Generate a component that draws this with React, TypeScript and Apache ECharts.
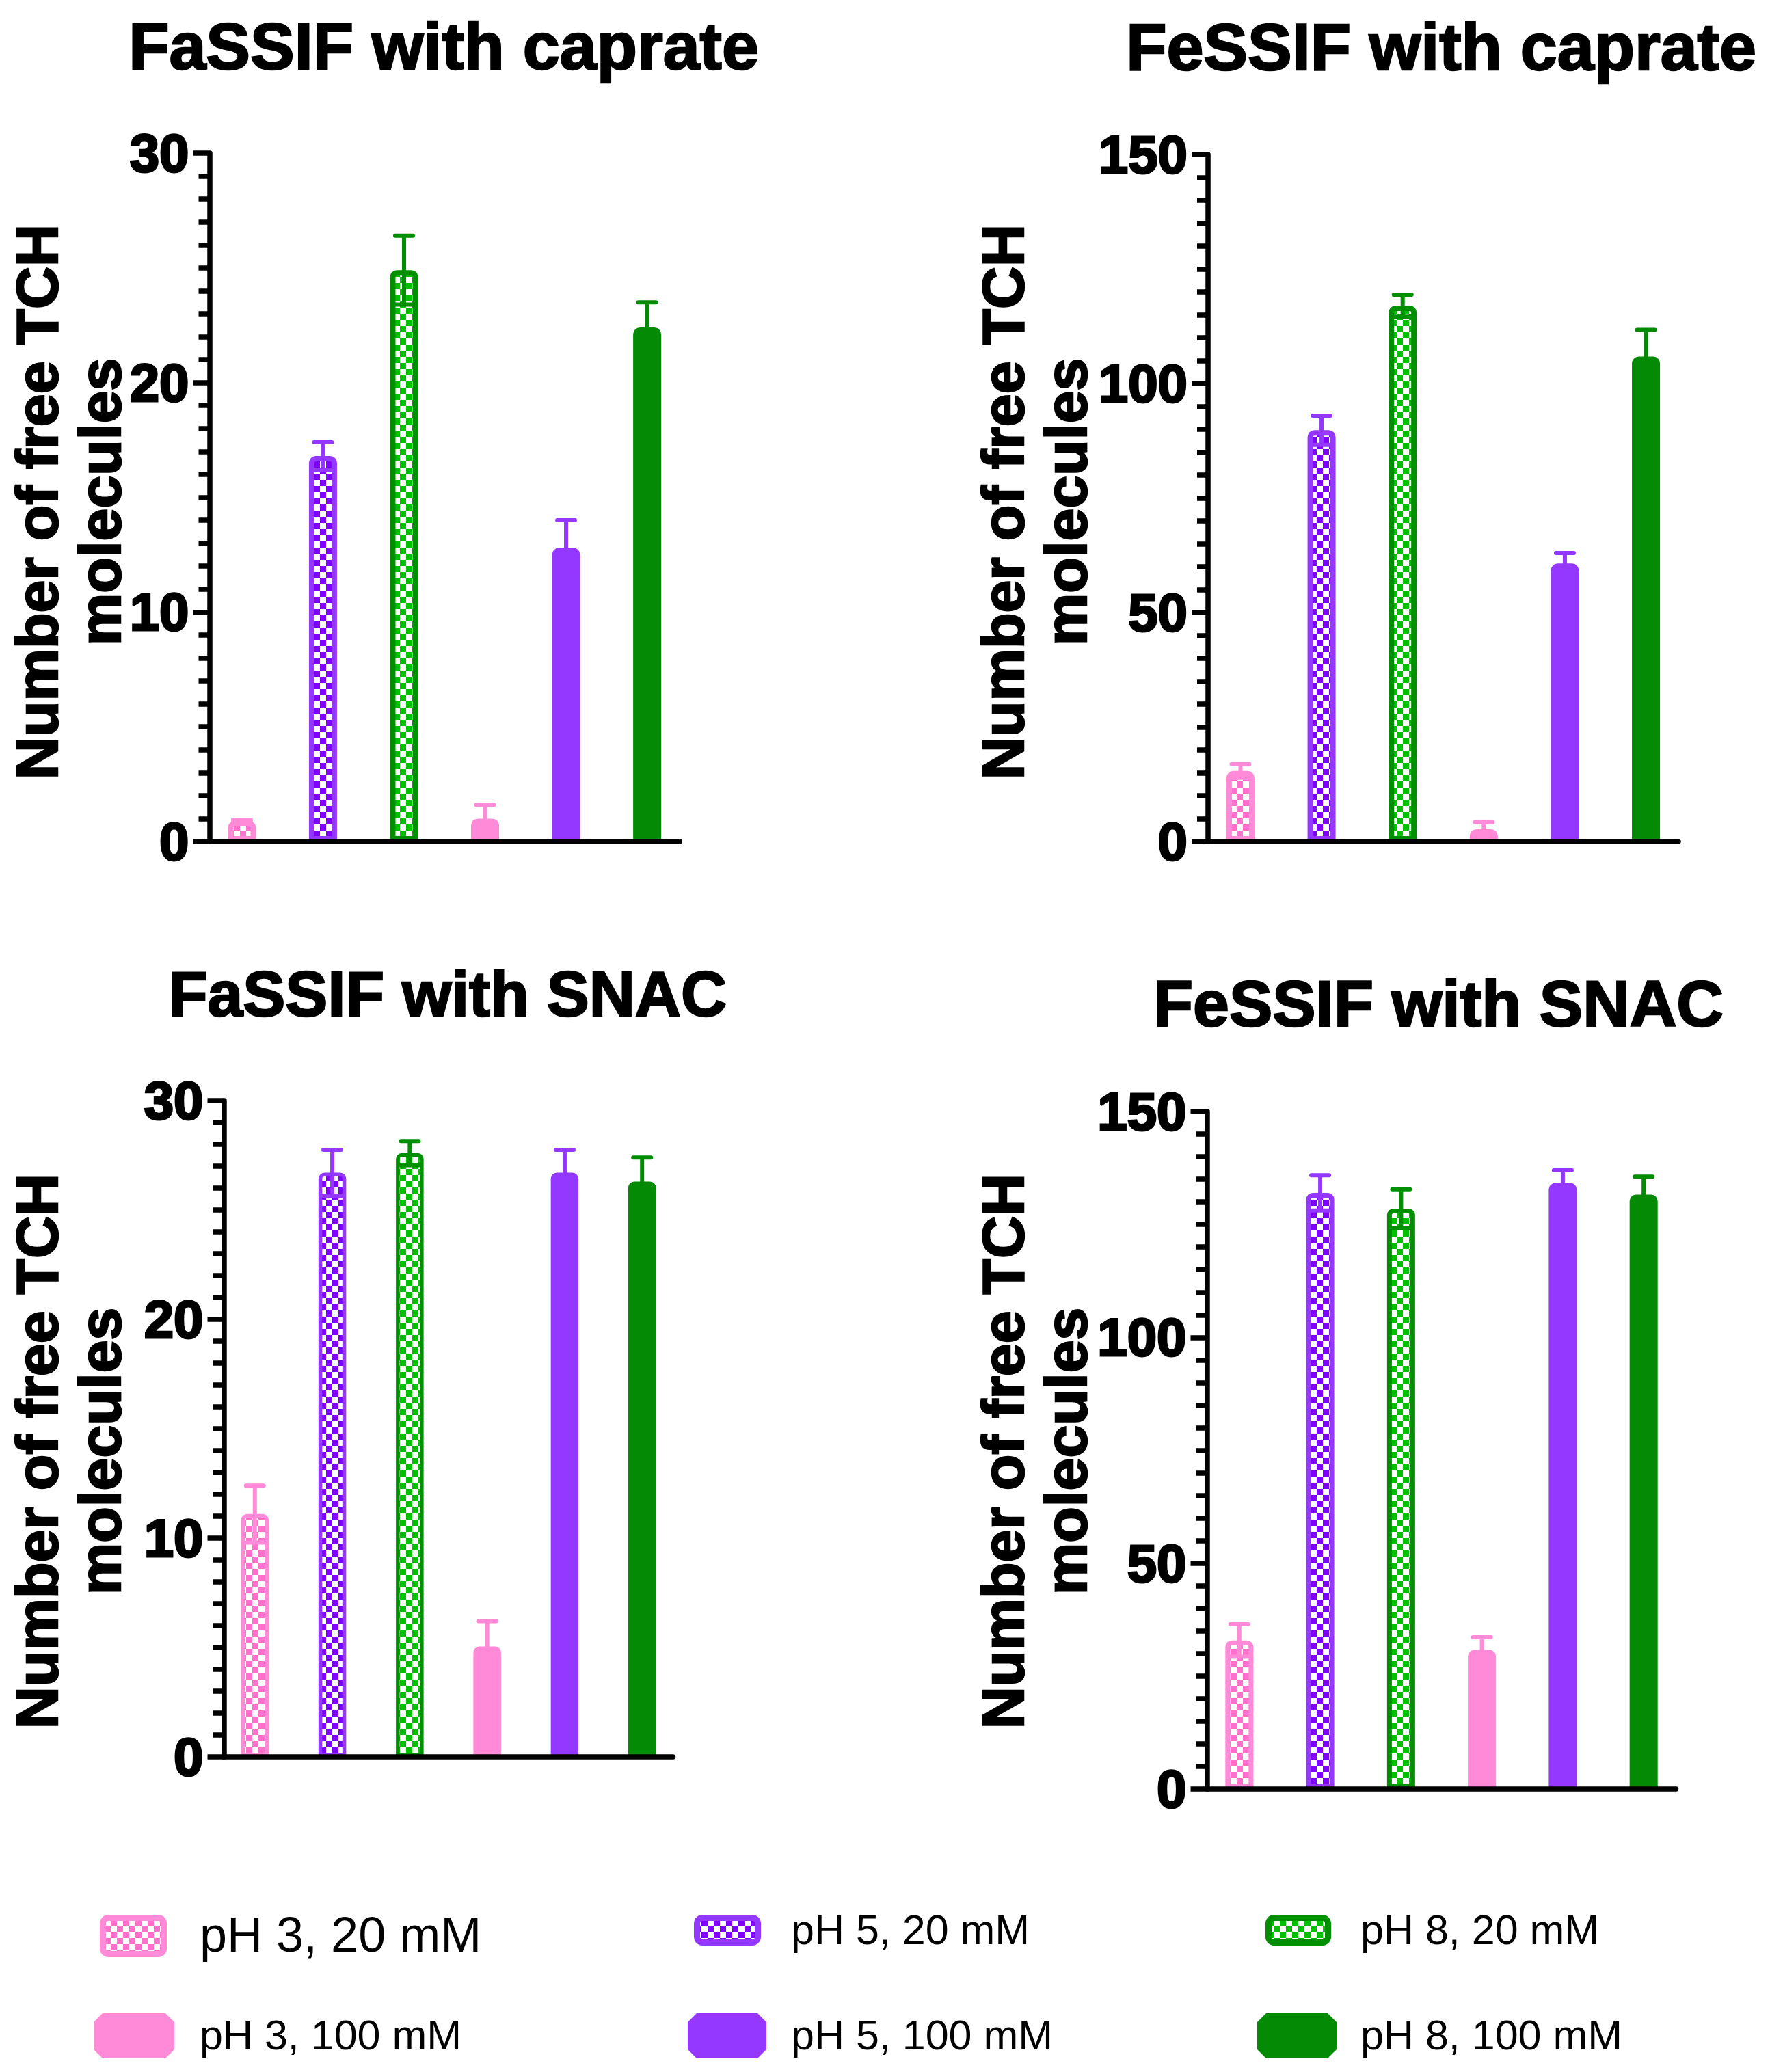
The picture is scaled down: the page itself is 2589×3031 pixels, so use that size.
import React, { useEffect, useRef } from "react";
import * as echarts from "echarts";

// ---------- data ----------
const CATEGORIES = ["pH 3, 20 mM", "pH 5, 20 mM", "pH 8, 20 mM", "pH 3, 100 mM", "pH 5, 100 mM", "pH 8, 100 mM"];
const TITLES = ["FaSSIF with caprate", "FeSSIF with caprate", "FaSSIF with SNAC", "FeSSIF with SNAC"];
const Y_NAME = "Number of free TCH\nmolecules";

const FASSIF_CAPRATE = [0.9, 16.8, 24.9, 1.0, 12.8, 22.4];
const FASSIF_CAPRATE_ERR = [0.05, 0.6, 1.5, 0.6, 1.2, 1.1];
const FESSIF_CAPRATE = [15.4, 89.8, 117.0, 2.7, 60.7, 105.9];
const FESSIF_CAPRATE_ERR = [1.5, 3.2, 2.4, 1.5, 2.3, 5.8];
const FASSIF_SNAC = [11.1, 26.7, 27.6, 5.05, 26.7, 26.3];
const FASSIF_SNAC_ERR = [1.3, 1.05, 0.55, 1.15, 1.05, 1.1];
const FESSIF_SNAC = [32.9, 132.0, 128.5, 30.8, 134.2, 131.6];
const FESSIF_SNAC_ERR = [3.6, 3.9, 4.3, 2.8, 2.8, 4.0];

const Y_MAX = [30, 150, 30, 150];
const Y_INTERVAL = [10, 50, 10, 50];
const Y_MINOR_SPLIT = [10, 10, 10, 10];

// ---------- styles ----------
const FONT = "'Liberation Sans', Arial, sans-serif";
const BORDER_COLORS = ["#FF8AD8", "#9437FF", "#008F00"];
const CELL_COLORS = ["#FF70CC", "#8000FF", "#00C000"];
const SOLID_COLORS = ["#FF8AD8", "#9437FF", "#058A05"];

const PANELS = [
  { left: 306.5, top: 224, width: 687.5, height: 1007, outer: 49, border: 8, titleX: 649, titleY: 67, titleSize: 97, nameX: 99.5, nameY: 734 },
  { left: 1767, top: 226, width: 688, height: 1005, outer: 49, border: 8, titleX: 2108, titleY: 68, titleSize: 97, nameX: 1512.5, nameY: 734 },
  { left: 327.5, top: 1610, width: 657, height: 960, outer: 46, border: 5.5, titleX: 655, titleY: 1454, titleSize: 93, nameX: 99.5, nameY: 2123 },
  { left: 1765.5, top: 1626, width: 686, height: 991, outer: 48, border: 7, titleX: 2104, titleY: 1468, titleSize: 95, nameX: 1512.5, nameY: 2123 },
];

function checker(cell: number, fg: string) {
  const c = document.createElement("canvas");
  c.width = cell * 2;
  c.height = cell * 2;
  const g = c.getContext("2d")!;
  g.fillStyle = "#ffffff";
  g.fillRect(0, 0, cell * 2, cell * 2);
  g.fillStyle = fg;
  g.fillRect(0, 0, cell, cell);
  g.fillRect(cell, cell, cell, cell);
  return c;
}

export default function App() {
  const ref = useRef<HTMLDivElement>(null);
  useEffect(() => {
    document.body.style.margin = "0";
    if (!ref.current) return;
    const chart = echarts.init(ref.current, undefined, { renderer: "svg" });

    const patterns = CELL_COLORS.map((c) => ({ image: checker(9, c), repeat: "repeat" }));
    const values = [FASSIF_CAPRATE, FESSIF_CAPRATE, FASSIF_SNAC, FESSIF_SNAC];
    const errors = [FASSIF_CAPRATE_ERR, FESSIF_CAPRATE_ERR, FASSIF_SNAC_ERR, FESSIF_SNAC_ERR];

    const lineStyle = { color: "#000", width: 7.5 };
    const grids: any[] = [];
    const xAxes: any[] = [];
    const yAxes: any[] = [];
    const series: any[] = [];
    const graphics: any[] = [];

    PANELS.forEach((p, i) => {
      grids.push({ left: p.left, top: p.top, width: p.width, height: p.height, containLabel: false, outerBoundsMode: "none" });
      xAxes.push({
        gridIndex: i, type: "value", min: -0.4, max: 5.4, z: 10,
        axisLine: { show: true, onZero: false, lineStyle },
        axisTick: { show: false }, axisLabel: { show: false }, splitLine: { show: false },
      });
      yAxes.push({
        gridIndex: i, type: "value", min: 0, max: Y_MAX[i], interval: Y_INTERVAL[i], z: 10,
        axisLine: { show: true, onZero: false, lineStyle },
        axisTick: { show: true, length: 24, lineStyle },
        minorTick: { show: true, splitNumber: Y_MINOR_SPLIT[i], length: 16, lineStyle },
        splitLine: { show: false }, minorSplitLine: { show: false },
        axisLabel: {
          margin: 30, fontSize: 78, fontWeight: "bold", fontFamily: FONT, color: "#000",
          textBorderColor: "#000", textBorderWidth: 3,
        },
      });
      const vals = values[i];
      const errs = errors[i];
      series.push({
        type: "bar", name: TITLES[i], xAxisIndex: i, yAxisIndex: i, silent: true, z: 2,
        barWidth: p.outer - p.border,
        data: vals.map((v, k) => {
          const c = k % 3;
          const patterned = k < 3;
          return {
            value: [k, v],
            name: CATEGORIES[k],
            itemStyle: {
              color: patterned ? patterns[c] : SOLID_COLORS[c],
              borderColor: patterned ? BORDER_COLORS[c] : SOLID_COLORS[c],
              borderWidth: p.border,
              borderRadius: [6, 6, 0, 0],
            },
          };
        }),
      });
      series.push({
        type: "custom", xAxisIndex: i, yAxisIndex: i, silent: true, z: 5,
        encode: { x: 0, y: 1 },
        data: vals.map((v, k) => [k, v, errs[k]]),
        renderItem: (params: any, api: any) => {
          const x = api.value(0);
          const y = api.value(1);
          const e = api.value(2);
          const k = params.dataIndex;
          const col = k < 3 ? BORDER_COLORS[k % 3] : SOLID_COLORS[k % 3];
          const t = api.coord([x, y + e]);
          const b = api.coord([x, y - e]);
          const st = { stroke: col, lineWidth: 6, lineCap: "round" };
          return {
            type: "group",
            children: [
              { type: "line", shape: { x1: t[0], y1: t[1], x2: b[0], y2: b[1] }, style: { stroke: col, lineWidth: 6 } },
              { type: "line", shape: { x1: t[0] - 13, y1: t[1], x2: t[0] + 13, y2: t[1] }, style: st },
              { type: "line", shape: { x1: b[0] - 13, y1: b[1], x2: b[0] + 13, y2: b[1] }, style: st },
            ],
          };
        },
      });
      graphics.push({
        type: "text", x: p.titleX, y: p.titleY, silent: true,
        style: {
          text: TITLES[i], fontSize: p.titleSize, fontWeight: "bold", fontFamily: FONT, fill: "#000",
          stroke: "#000", lineWidth: 2.5, align: "center", verticalAlign: "middle",
        },
      });
      graphics.push({
        type: "text", x: p.nameX, y: p.nameY, rotation: Math.PI / 2, silent: true,
        style: {
          text: Y_NAME, fontSize: 86, fontWeight: "bold", fontFamily: FONT, fill: "#000", lineHeight: 92,
          stroke: "#000", lineWidth: 2.5, align: "center", verticalAlign: "middle",
        },
      });
    });

    // legend
    const row1 = [
      { x: 150.5, y: 2805.5, w: 89, h: 53, tx: 292, ty: 2830, fs: 72 },
      { x: 1019.5, y: 2805.5, w: 89, h: 36, tx: 1157, ty: 2823, fs: 61 },
      { x: 1855.5, y: 2805.5, w: 87, h: 36, tx: 1990, ty: 2823, fs: 61 },
    ];
    const row2 = [
      { x0: 137, x1: 255, tx: 292 },
      { x0: 1006, x1: 1121, tx: 1157 },
      { x0: 1839, x1: 1955, tx: 1990 },
    ];
    row1.forEach((r, c) => {
      graphics.push({
        type: "rect", silent: true,
        shape: { x: r.x, y: r.y, width: r.w, height: r.h, r: 8 },
        style: { fill: patterns[c], stroke: BORDER_COLORS[c], lineWidth: 9 },
      });
      graphics.push({
        type: "text", x: r.tx, y: r.ty, silent: true,
        style: { text: CATEGORIES[c], fontSize: r.fs, fontFamily: FONT, fill: "#000", align: "left", verticalAlign: "middle" },
      });
    });
    row2.forEach((r, c) => {
      const y0 = 2945, y1 = 3011, d = 13;
      graphics.push({
        type: "polygon", silent: true,
        shape: {
          points: [
            [r.x0 + d, y0], [r.x1 - d, y0], [r.x1, y0 + d], [r.x1, y1 - d],
            [r.x1 - d, y1], [r.x0 + d, y1], [r.x0, y1 - d], [r.x0, y0 + d],
          ],
        },
        style: { fill: SOLID_COLORS[c] },
      });
      graphics.push({
        type: "text", x: r.tx, y: 2977, silent: true,
        style: { text: CATEGORIES[c + 3], fontSize: 61, fontFamily: FONT, fill: "#000", align: "left", verticalAlign: "middle" },
      });
    });

    chart.setOption({
      animation: false,
      backgroundColor: "#ffffff",
      grid: grids,
      xAxis: xAxes,
      yAxis: yAxes,
      series,
      graphic: graphics,
    });
    return () => chart.dispose();
  }, []);
  return <div ref={ref} style={{ width: 2589, height: 3031 }} />;
}
